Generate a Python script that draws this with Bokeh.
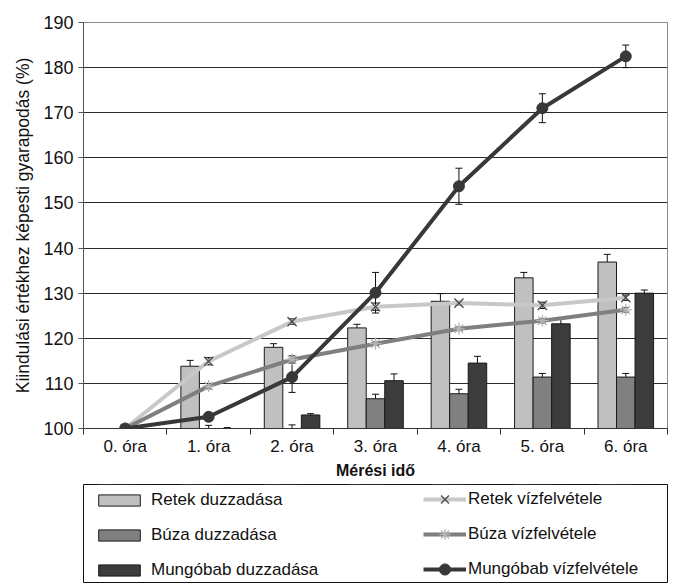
from bokeh.plotting import figure
from bokeh.models import (ColumnDataSource, Whisker, TeeHead, FixedTicker, Legend,
                          LegendItem, Range1d)
from bokeh.layouts import column
from bokeh.embed import file_html
from bokeh.resources import INLINE

categories = ["0. óra", "1. óra", "2. óra", "3. óra", "4. óra", "5. óra", "6. óra"]

retek_bar = [100, 113.8, 118.0, 122.3, 128.2, 133.4, 136.9]
retek_bar_err = [0, 1.3, 0.8, 0.8, 1.7, 1.2, 1.7]
buza_bar = [100, 100.0, 100.0, 106.6, 107.7, 111.4, 111.4]
buza_bar_err = [0, 0.7, 0.8, 1.0, 1.0, 0.8, 0.8]
mungo_bar = [100, 100.0, 103.0, 110.6, 114.5, 123.2, 130.0]
mungo_bar_err = [0, 0.2, 0.3, 1.5, 1.5, 1.0, 0.7]

retek_line = [100, 114.9, 123.7, 127.0, 127.8, 127.3, 129.0]
retek_line_err = [0, 0.8, 0.6, 0.8, 0.4, 0.7, 0.6]
buza_line = [100, 109.4, 115.3, 118.8, 122.1, 123.9, 126.3]
buza_line_err = [0, 0.6, 0.8, 0.4, 0.4, 0.5, 0.5]
mungo_line = [100, 102.6, 111.4, 130.1, 153.7, 171.0, 182.5]
mungo_line_err = [0, 0.9, 3.4, 4.5, 4.0, 3.2, 2.5]

FONT = "Liberation Sans"

idx = list(range(len(categories)))
bw = 0.222

p = figure(width=673, height=482, output_backend="svg", toolbar_location=None,
           x_range=Range1d(-0.5, 6.5), y_range=Range1d(100, 190),
           min_border_left=83, min_border_right=6, min_border_top=22, min_border_bottom=54)
p.background_fill_color = "white"
p.outline_line_color = "#8c8c8c"
p.outline_line_width = 1

# legend figure: its frame outline is the legend box; its glyphs fall outside its ranges
lf = figure(width=673, height=101, output_backend="svg", toolbar_location=None,
            x_range=Range1d(-0.5, 6.5), y_range=Range1d(0, 1),
            x_axis_location=None, y_axis_location=None,
            min_border_left=83, min_border_right=6, min_border_top=2, min_border_bottom=0)
lf.outline_line_color = "#111111"
lf.outline_line_width = 1
lf.xgrid.grid_line_color = None
lf.ygrid.grid_line_color = None

bar_specs = [
    ("Retek duzzadása", retek_bar, retek_bar_err, -bw, "#c0c0c0"),
    ("Búza duzzadása", buza_bar, buza_bar_err, 0.0, "#808080"),
    ("Mungóbab duzzadása", mungo_bar, mungo_bar_err, bw, "#3c3c3c"),
]
line_specs = [
    ("Retek vízfelvétele", retek_line, retek_line_err, "#c8c8c8", "x", "#4a4a4a", 13),
    ("Búza vízfelvétele", buza_line, buza_line_err, "#7f7f7f", "asterisk", "#b4b4b4", 12),
    ("Mungóbab vízfelvétele", mungo_line, mungo_line_err, "#383838", "circle", "#383838", 11),
]


def whisker(src):
    return Whisker(base="x", upper="upper", lower="lower", source=src,
                   line_color="#111111", line_width=1,
                   upper_head=TeeHead(size=7, line_color="#111111", line_width=1),
                   lower_head=TeeHead(size=7, line_color="#111111", line_width=1))


def draw_bars(fig, with_err):
    out = []
    for name, vals, errs, off, col in bar_specs:
        src = ColumnDataSource(dict(x=[i + off for i in idx], top=vals,
                                    upper=[v + e for v, e in zip(vals, errs)],
                                    lower=[v - e for v, e in zip(vals, errs)]))
        r = fig.vbar(x="x", top="top", bottom=100, width=bw, source=src,
                     fill_color=col, line_color="#1a1a1a", line_width=1)
        out.append((name, [r]))
        if with_err:
            fig.add_layout(whisker(src))
    return out


def draw_lines(fig, with_err):
    out = []
    for name, vals, errs, col, mk, mcol, ms in line_specs:
        src = ColumnDataSource(dict(x=idx, y=vals,
                                    upper=[v + e for v, e in zip(vals, errs)],
                                    lower=[v - e for v, e in zip(vals, errs)]))
        l = fig.line(x="x", y="y", source=src, line_color=col, line_width=4)
        if with_err:
            fig.add_layout(whisker(src))
        if mk == "circle":
            m = fig.scatter(x="x", y="y", source=src, marker="circle", size=ms,
                            fill_color=mcol, line_color=mcol)
        else:
            m = fig.scatter(x="x", y="y", source=src, marker=mk, size=ms,
                            line_color=mcol, line_width=1.3)
        out.append((name, [l, m]))
    return out


draw_bars(p, True)
draw_lines(p, True)
lb = draw_bars(lf, False)
ll = draw_lines(lf, False)

p.xaxis.ticker = FixedTicker(ticks=idx, minor_ticks=[i - 0.5 for i in idx] + [6.5])
p.xaxis.major_label_overrides = {i: c for i, c in zip(idx, categories)}
p.xaxis.major_tick_line_color = None
p.xaxis.minor_tick_line_color = "#333333"
p.xaxis.minor_tick_in = 0
p.xaxis.minor_tick_out = 6
p.xaxis.axis_line_color = "#333333"
p.xaxis.axis_label = "Mérési idő"
p.xaxis.axis_label_text_font = FONT
p.xaxis.axis_label_text_font_style = "bold"
p.xaxis.axis_label_text_font_size = "16px"
p.xaxis.axis_label_text_color = "#111111"
p.xaxis.axis_label_standoff = 3
p.xaxis.major_label_text_font = FONT
p.xaxis.major_label_text_font_size = "17px"
p.xaxis.major_label_text_color = "#111111"
p.xaxis.major_label_standoff = 2

p.yaxis.ticker = FixedTicker(ticks=list(range(100, 191, 10)))
p.yaxis.axis_label = "Kiindulási értékhez képesti gyarapodás (%)"
p.yaxis.axis_label_text_font = FONT
p.yaxis.axis_label_text_font_style = "normal"
p.yaxis.axis_label_text_font_size = "17.5px"
p.yaxis.axis_label_text_color = "#111111"
p.yaxis.axis_label_standoff = 7
p.yaxis.major_label_text_font = FONT
p.yaxis.major_label_text_font_size = "18px"
p.yaxis.major_label_text_color = "#111111"
p.yaxis.major_tick_in = 0
p.yaxis.major_tick_out = 5
p.yaxis.minor_tick_line_color = None
p.yaxis.axis_line_color = "#555555"
p.yaxis.major_tick_line_color = "#555555"

p.xgrid.grid_line_color = None
p.ygrid.grid_line_color = "#2a2a2a"
p.ygrid.grid_line_width = 1

leg_common = dict(orientation="vertical", border_line_color=None,
                  background_fill_alpha=0, padding=0, margin=0,
                  label_text_font=FONT, label_text_font_size="17px",
                  label_text_color="#111111", label_height=20)

legend_bars = Legend(items=[LegendItem(label=n, renderers=r) for n, r in lb],
                     location=(10, 3), glyph_width=52, glyph_height=14,
                     spacing=15, label_standoff=6, **leg_common)
legend_lines = Legend(items=[LegendItem(label=n, renderers=r) for n, r in ll],
                      location=(340, 0), glyph_width=43, glyph_height=28,
                      spacing=7, label_standoff=2, **leg_common)
lf.add_layout(legend_bars, "center")
lf.add_layout(legend_lines, "center")

layout = column(p, lf, spacing=0)
open("out.html", "w").write(file_html(layout, INLINE))
